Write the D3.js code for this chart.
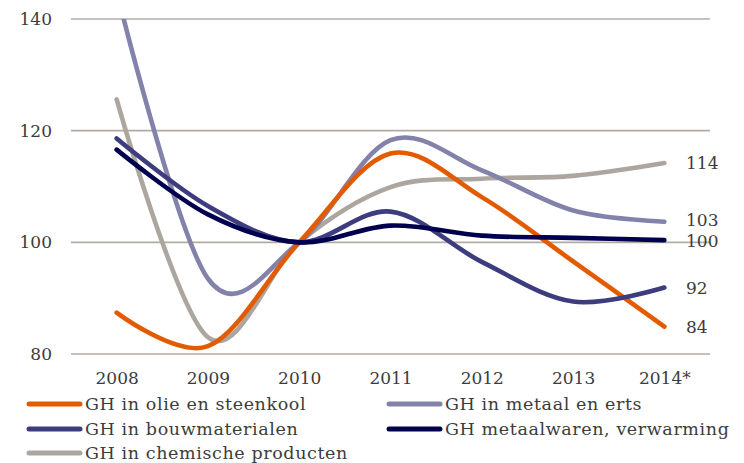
<!DOCTYPE html>
<html>
<head>
<meta charset="utf-8">
<script src="https://cdn.jsdelivr.net/npm/d3@7"></script>
<style>
  html, body { margin: 0; padding: 0; background: #fff; }
  svg text { font-family: "DejaVu Serif", "Liberation Serif", serif; font-weight: 400; fill: #3c3c3c; }
</style>
</head>
<body>
<svg id="chart" width="744" height="463"></svg>
<script>
const years = ["2008", "2009", "2010", "2011", "2012", "2013", "2014*"];
const yTicks = [80, 100, 120, 140];

const olieSteenkool = [87.4, 81.4, 100, 115.9, 108.1, 96.6, 84.9];
const metaalErts = [145, 93.5, 100, 118.3, 112.9, 105.7, 103.7];
const bouwmaterialen = [118.6, 106.5, 100, 105.5, 96.5, 89.4, 91.9];
const metaalwaren = [116.6, 105, 100, 103.0, 101.2, 100.8, 100.4];
const chemisch = [125.6, 83.0, 100, 109.9, 111.4, 111.9, 114.2];

const endLabels = ["84", "103", "92", "100", "114"];

const seriesNames = ["GH in olie en steenkool", "GH in metaal en erts", "GH in bouwmaterialen",
                     "GH metaalwaren, verwarming", "GH in chemische producten"];
const seriesValues = [olieSteenkool, metaalErts, bouwmaterialen, metaalwaren, chemisch];
const colors = ["#e35b00", "#8282aa", "#3c3c7e", "#00004f", "#aca69f"];
const drawOrder = [4, 1, 0, 2, 3];

const svg = d3.select("#chart");
const mLeft = 71, mRight = 710, mTop = 19, mBottom = 354;
const fs = "17px";

const x = d3.scalePoint().domain(years).range([mLeft, mRight]).padding(0.5);
const y = d3.scaleLinear().domain([80, 140]).range([mBottom, mTop]);

// gridlines
svg.append("g").selectAll("line").data(yTicks).join("line")
  .attr("x1", mLeft).attr("x2", mRight)
  .attr("y1", d => y(d)).attr("y2", d => y(d))
  .attr("stroke", "#b3aba3").attr("stroke-width", 1.6);

// y axis labels
const yAxis = d3.axisLeft(y).tickValues(yTicks).tickSize(0).tickPadding(19);
const gy = svg.append("g").attr("transform", `translate(${mLeft},0)`).call(yAxis);
gy.select(".domain").remove();
gy.selectAll("text").style("font-size", fs).attr("font-family", null).attr("fill", "#3c3c3c");

// x axis labels
const xAxis = d3.axisBottom(x).tickSize(0).tickPadding(18);
const gx = svg.append("g").attr("transform", `translate(0,${mBottom})`).call(xAxis);
gx.select(".domain").remove();
gx.selectAll("text").style("font-size", fs).attr("font-family", null).attr("fill", "#3c3c3c");

// clip
svg.append("clipPath").attr("id", "plotclip").append("rect")
  .attr("x", 0).attr("y", mTop).attr("width", 744).attr("height", mBottom - mTop + 20);

const line = d3.line()
  .x((d, i) => x(years[i]))
  .y(d => y(d))
  .curve(d3.curveCardinal.tension(0));

const lines = svg.append("g").attr("clip-path", "url(#plotclip)");
drawOrder.forEach(k => {
  lines.append("path")
    .attr("d", line(seriesValues[k]))
    .attr("fill", "none")
    .attr("stroke", colors[k])
    .attr("stroke-width", 4.6)
    .attr("stroke-linecap", "round")
    .attr("stroke-linejoin", "round");
});

// end labels
const labelSeries = [0, 1, 2, 3, 4];
const labelNudge = [0, -2, 0, 1, 0];
svg.append("g").selectAll("text").data(labelSeries).join("text")
  .attr("x", 686)
  .attr("y", (k, i) => y(seriesValues[k][seriesValues[k].length - 1]) + labelNudge[i])
  .attr("dy", "0.35em")
  .style("font-size", fs)
  .text((k, i) => endLabels[i]);

// legend
const legendPos = [[27, 404], [387, 404], [27, 429], [387, 429], [27, 453]];
const lg = svg.append("g");
seriesNames.forEach((name, k) => {
  const [lx, ly] = legendPos[k];
  lg.append("line")
    .attr("x1", lx + 2).attr("x2", lx + 53)
    .attr("y1", ly).attr("y2", ly)
    .attr("stroke", colors[k]).attr("stroke-width", 5)
    .attr("stroke-linecap", "round");
  lg.append("text")
    .attr("x", lx + 58).attr("y", ly).attr("dy", "0.35em")
    .style("font-size", "17.5px")
    .style("letter-spacing", "0.6px")
    .text(name);
});
</script>
</body>
</html>
